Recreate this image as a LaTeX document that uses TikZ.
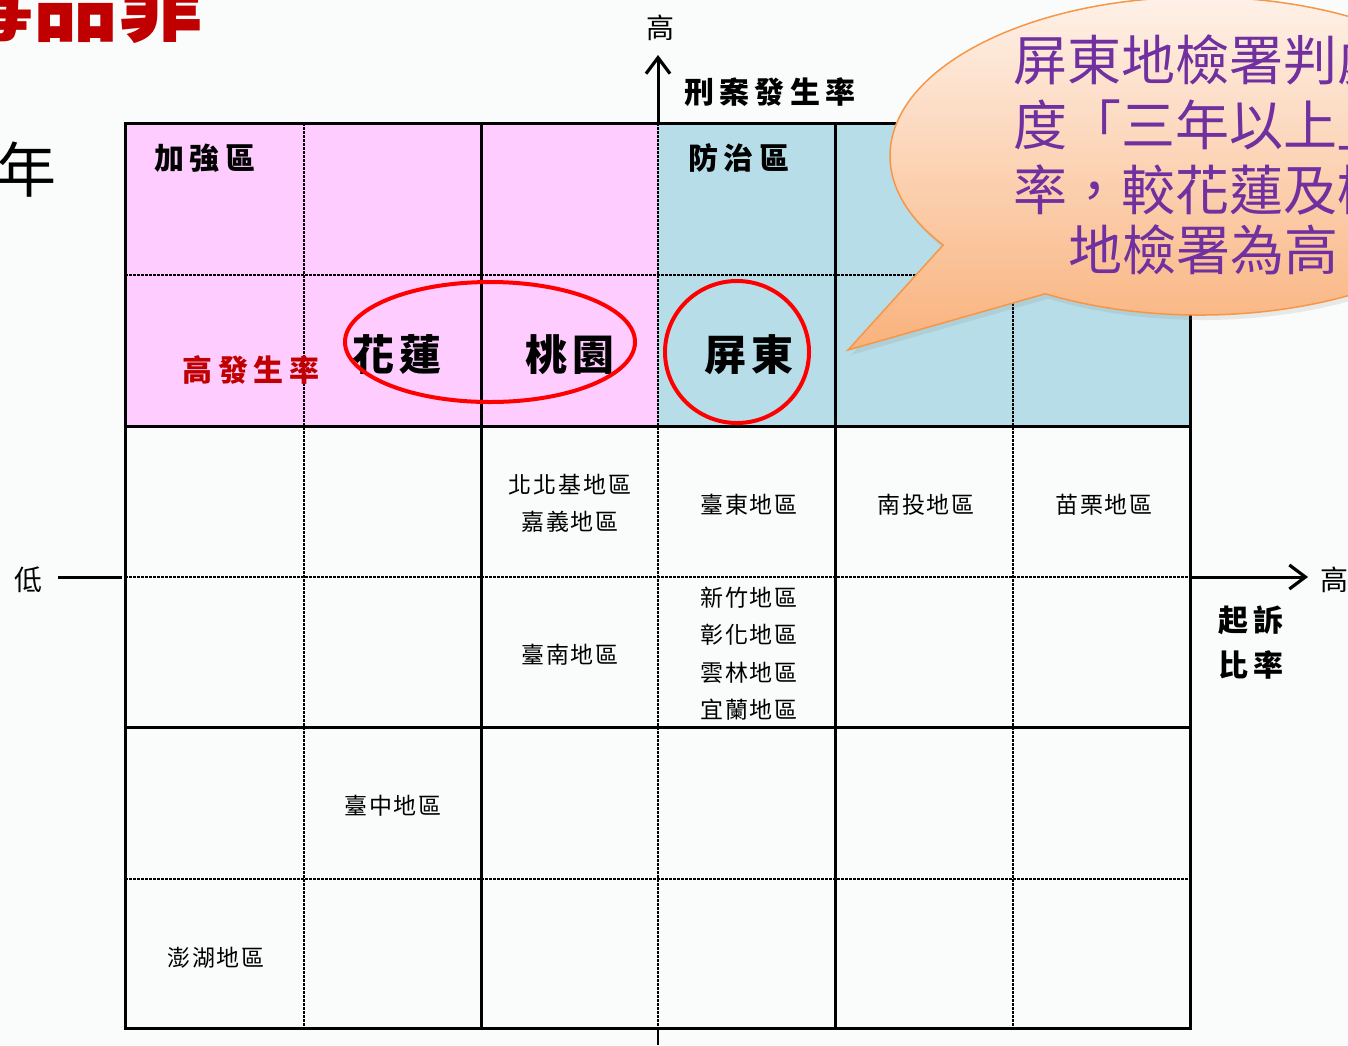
\documentclass[tikz,border=0pt]{standalone}
\usepackage{fontspec}
\setmainfont{Noto Sans CJK TC}
\newfontfamily\labelfont[LetterSpace=8]{Noto Sans CJK TC}
\newfontfamily\zonefont[LetterSpace=18]{Noto Sans CJK TC}
\newfontfamily\cityfont[LetterSpace=14]{Noto Sans CJK TC}
\usetikzlibrary{arrows.meta,shapes.callouts,shapes.geometric,shadows}
\definecolor{bgc}{HTML}{FAFCFC}
\definecolor{pinkc}{HTML}{FFCCFF}
\definecolor{bluec}{HTML}{B7DEE8}
\definecolor{purplec}{HTML}{7030A0}
\definecolor{darkredc}{HTML}{C00000}
\definecolor{orangec}{HTML}{F79646}
\definecolor{peachtop}{HTML}{FEF1E8}
\definecolor{peachbot}{HTML}{F9B27C}
\tikzset{
  solidline/.style={line width=3pt},
  dashline/.style={line width=1.1pt, dash pattern=on 2.5pt off 1.5pt},
  axisline/.style={line width=3pt},
  axisarrow/.style={line width=3pt, -{Straight Barb[length=16pt,width=24pt,line width=3.2pt]}},
  region/.style={font=\labelfont\fontsize{23}{27}\selectfont, inner sep=0pt, align=center},
  zone/.style={font=\zonefont\bfseries\fontsize{30}{34}\selectfont, inner sep=0pt},
  city/.style={font=\cityfont\bfseries\fontsize{42}{46}\selectfont, inner sep=0pt},
  axislabel/.style={font=\fontsize{28}{32}\selectfont, inner sep=0pt},
  ringmark/.style={draw=red, line width=4pt, ellipse, inner sep=0pt},
  bubbletext/.style={font=\fontsize{54}{60}\selectfont, text=purplec, inner sep=0pt, anchor=west}
}
\begin{document}
\begin{tikzpicture}[x=1pt,y=-1pt]
\useasboundingbox (0,0) rectangle (1348,1045);
\fill[bgc] (0,0) rectangle (1348,1045);

% title (cut off at top-left)
\node[font=\bfseries\fontsize{85}{90}\selectfont, text=darkredc, inner sep=0pt, anchor=base east] (title) at (204,34) {毒品罪};
\node[font=\fontsize{60}{64}\selectfont, inner sep=0pt] (nian) at (27,170) {年};

% quadrant fills
\fill[pinkc] (125,123) rectangle (658,426);
\fill[bluec] (658,123) rectangle (1190,426);

% dashed grid lines
\foreach \x in {304,658,1013} \draw[dashline] (\x,123) -- (\x,1028);
\foreach \y in {275,577,879} \draw[dashline] (125,\y) -- (1190,\y);

% solid grid lines
\draw[solidline] (125,123) rectangle (1190,1028);
\foreach \x in {481,835} \draw[solidline] (\x,123) -- (\x,1028);
\foreach \y in {426,727} \draw[solidline] (125,\y) -- (1190,\y);

% axes
\coordinate (ybase) at (658,123);
\coordinate (ytip) at (658,55);
\coordinate (ybot) at (658,1028);
\coordinate (ybotend) at (658,1045);
\coordinate (xleftend) at (58,577);
\coordinate (xleft) at (122,577);
\coordinate (xright) at (1190,577);
\coordinate (xtip) at (1308,577);
\draw[axisarrow] (ybase) -- (ytip);
\draw[line width=2pt] (ybot) -- (ybotend);
\draw[axisline] (xleftend) -- (xleft);
\draw[axisarrow] (xright) -- (xtip);

\node[axislabel] (yhigh) at (660,28) {高};
\node[zone] (ylabel) at (770,92) {刑案發生率};
\node[axislabel] (xlow) at (28,580) {低};
\node[axislabel] (xhigh) at (1334,580) {高};
\node[zone] (xlabel1) at (1251,620) {起訴};
\node[zone] (xlabel2) at (1251,665) {比率};

% zone labels
\node[zone] (zoneA) at (205,158) {加強區};
\node[zone] (zoneB) at (739,158) {防治區};
\node[zone, text=darkredc] (highrate) at (251,370) {高發生率};

% cities in upper quadrants
\node[city] (hualien) at (397,355) {花蓮};
\node[city] (taoyuan) at (570,355) {桃園};
\node[city] (pingtung) at (749,355) {屏東};

% red rings
\node[ringmark, minimum width=290pt, minimum height=120pt] (ring1) at (490,342) {};
\node[ringmark, minimum width=144pt, minimum height=142pt] (ring2) at (737,352) {};

% region labels
\node[region] (r1) at (570,485) {北北基地區};
\node[region] (r2) at (570,522) {嘉義地區};
\node[region] (r3) at (749,505) {臺東地區};
\node[region] (r4) at (926,505) {南投地區};
\node[region] (r5) at (1104,505) {苗栗地區};
\node[region] (r6) at (570,655) {臺南地區};
\node[region] (r7) at (749,598) {新竹地區};
\node[region] (r8) at (749,635) {彰化地區};
\node[region] (r9) at (749,673) {雲林地區};
\node[region] (r10) at (749,710) {宜蘭地區};
\node[region] (r11) at (393,806) {臺中地區};
\node[region] (r12) at (216,958) {澎湖地區};

% callout bubble
\node[ellipse callout, draw=orangec, line width=1.5pt, top color=peachtop, bottom color=peachbot,
      minimum width=620pt, minimum height=318pt, inner sep=0pt,
      callout absolute pointer={(848,350)}, callout pointer arc=26,
      drop shadow={opacity=0.15, shadow xshift=3pt, shadow yshift=-5pt}] (bubble) at (1200,156) {};
\node[bubbletext] (b1) at (1013,60) {屏東地檢署判處};
\node[bubbletext] (b2) at (1013,125) {度「三年以上」};
\node[bubbletext] (b3) at (1013,190) {率，較花蓮及桃園};
\node[bubbletext] (b4) at (1068,250) {地檢署為高};
\end{tikzpicture}
\end{document}
